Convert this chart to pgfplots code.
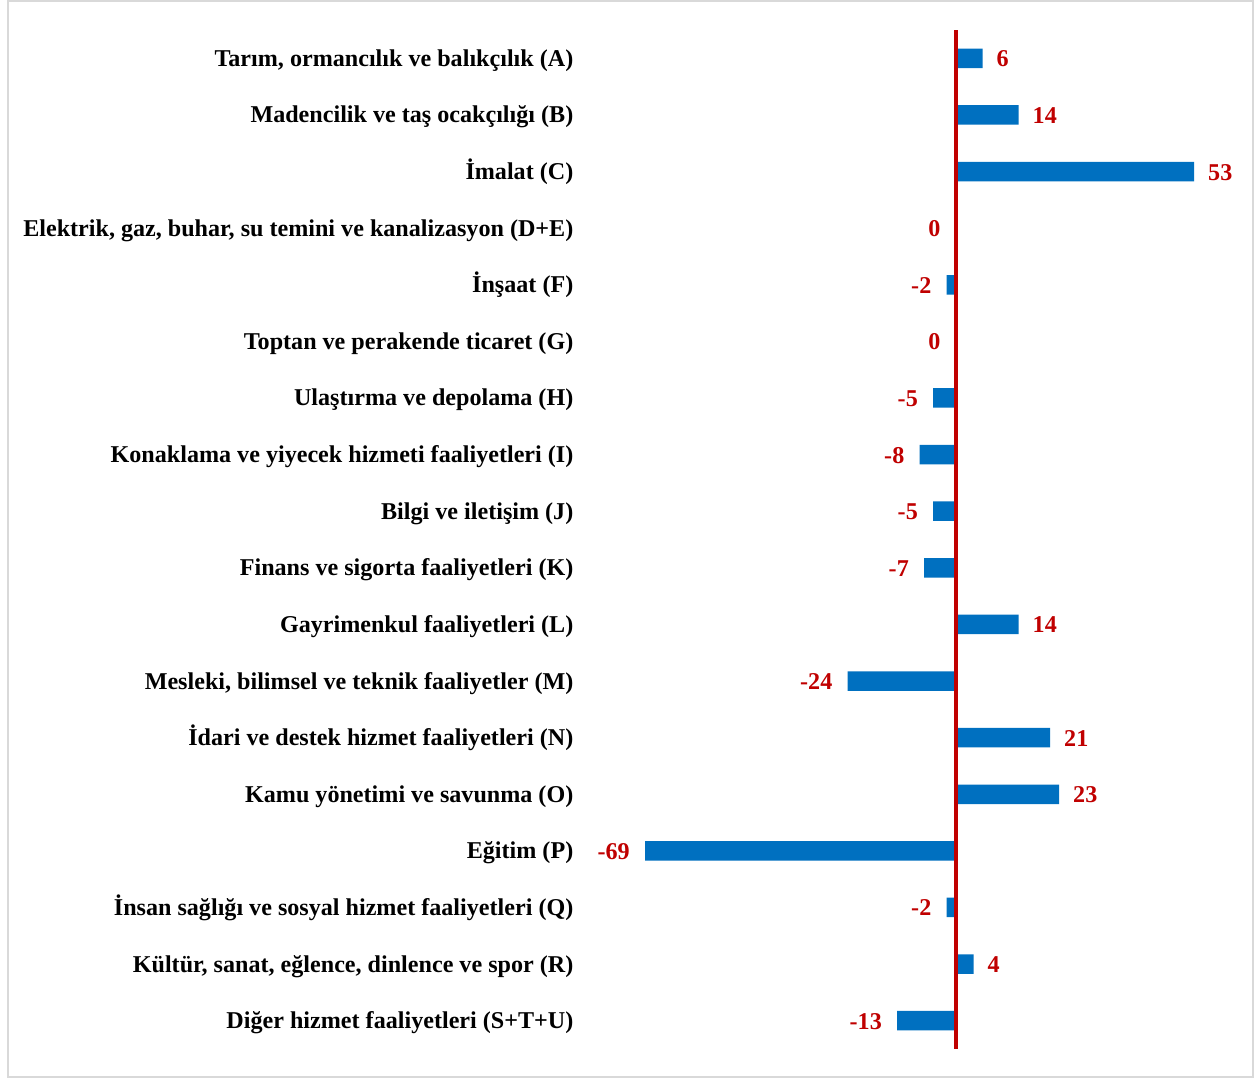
\documentclass[border=0pt]{standalone}
\usepackage{pgfplots}
\pgfplotsset{compat=1.18}
\usepackage{fontspec}
\setmainfont{Liberation Serif}
\definecolor{barblue}{HTML}{0070C0}
\definecolor{darkred}{HTML}{C00000}
\definecolor{frame}{HTML}{D9D9D9}
\begin{document}
\begin{tikzpicture}
\useasboundingbox (0,0) rectangle (1257bp,1079bp);
\fill[white] (0,0) rectangle (1257bp,1079bp);
\draw[frame, line width=2bp] (8bp,2bp) rectangle (1253bp,1078bp);
\begin{axis}[
  at={(595.5bp,30bp)}, anchor=south west,
  scale only axis, width=652.5bp, height=1019bp,
  xmin=-80, xmax=65, ymin=0.5, ymax=18.5,
  y dir=reverse,
  axis line style={draw=none},
  xtick=\empty,
  ytick={1,...,18},
  major tick length=0pt,
  clip=false,
  yticklabel style={font=\fontsize{24.2}{27}\selectfont\bfseries, anchor=base east, inner sep=0pt, xshift=-22bp, yshift=-8bp},
  yticklabels={
    {Tarım, ormancılık ve balıkçılık (A)},
    {Madencilik ve taş ocakçılığı (B)},
    {İmalat (C)},
    {Elektrik, gaz, buhar, su temini ve kanalizasyon (D+E)},
    {İnşaat (F)},
    {Toptan ve perakende ticaret (G)},
    {Ulaştırma ve depolama (H)},
    {Konaklama ve yiyecek hizmeti faaliyetleri (I)},
    {Bilgi ve iletişim (J)},
    {Finans ve sigorta faaliyetleri (K)},
    {Gayrimenkul faaliyetleri (L)},
    {Mesleki, bilimsel ve teknik faaliyetler (M)},
    {İdari ve destek hizmet faaliyetleri (N)},
    {Kamu yönetimi ve savunma (O)},
    {Eğitim (P)},
    {İnsan sağlığı ve sosyal hizmet faaliyetleri (Q)},
    {Kültür, sanat, eğlence, dinlence ve spor (R)},
    {Diğer hizmet faaliyetleri (S+T+U)}
  },
  xbar, bar width=19.5bp, bar shift=0pt,
  nodes near coords={\pgfmathprintnumber[assume math mode=true]{\pgfplotspointmeta}},
  point meta=x,
]
\addplot[fill=barblue, draw=none,
  every node near coord/.append style={anchor=base west, inner sep=0pt, xshift=14bp, yshift=-8.5bp, text=darkred, font=\fontsize{24.2}{27}\selectfont\bfseries}]
  coordinates {(6,1) (14,2) (53,3) (14,11) (21,13) (23,14) (4,17)};
\addplot[fill=barblue, draw=none,
  every node near coord/.append style={anchor=base east, inner sep=0pt, xshift=-15bp, yshift=-8.5bp, text=darkred, font=\fontsize{24.2}{27}\selectfont\bfseries}]
  coordinates {(0,4) (-2,5) (0,6) (-5,7) (-8,8) (-5,9) (-7,10) (-24,12) (-69,15) (-2,16) (-13,18)};
\draw[darkred, line width=4bp] (axis cs:0,0.5) -- (axis cs:0,18.5);
\end{axis}
\end{tikzpicture}
\end{document}
